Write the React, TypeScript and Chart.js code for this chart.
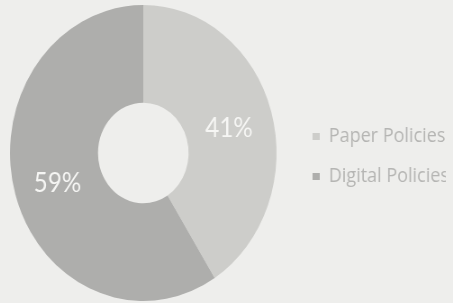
import React, { useEffect, useRef } from 'react';
import { Chart, registerables } from 'chart.js';

Chart.register(...registerables);

// ---- data ----
const categories: string[] = ['Paper Policies', 'Digital Policies'];
const shares: number[] = [41, 59];
const sliceColors: string[] = ['#cdcdca', '#aeaeac'];
const pctLabels: string[] = shares.map((v) => `${v}%`);

// ---- view ----
const VIEW_W = 453;
const VIEW_H = 303;
const SQUEEZE = 0.9; // the reference doughnut is a little narrower than tall
const LEFT_BLEED = 9; // canvas px hidden past the left edge
const CANVAS_W = Math.round(VIEW_W / SQUEEZE) + LEFT_BLEED;

const pctPlugin = {
  id: 'pctLabels',
  afterDatasetsDraw(chart: any) {
    const meta = chart.getDatasetMeta(0);
    const ctx = chart.ctx as CanvasRenderingContext2D;
    ctx.save();
    ctx.font = '27px Lato, "Open Sans", sans-serif';
    ctx.fillStyle = '#f6f6f4';
    ctx.textAlign = 'center';
    ctx.textBaseline = 'middle';
    meta.data.forEach((arc: any, i: number) => {
      const p = arc.tooltipPosition(false);
      ctx.fillText(pctLabels[i], p.x, p.y + 3);
    });
    ctx.restore();
  },
};

export default function App() {
  const ref = useRef<HTMLCanvasElement | null>(null);

  useEffect(() => {
    if (!ref.current) return;
    const chart = new Chart(ref.current, {
      type: 'doughnut',
      data: {
        labels: categories,
        datasets: [
          {
            data: shares,
            backgroundColor: sliceColors,
            borderWidth: 0,
          },
        ],
      },
      options: {
        responsive: false,
        animation: false,
        devicePixelRatio: 1,
        cutout: '34%',
        layout: { padding: { left: 0, right: 8, top: 5, bottom: 2 } },
        plugins: {
          legend: {
            position: 'right',
            align: 'center',
            maxWidth: 168,
            title: { display: true, text: ' ', padding: 0, font: { size: 7, lineHeight: 1 } },
            labels: {
              boxWidth: 8,
              boxHeight: 7,
              padding: 20,
              color: '#b5b5b3',
              font: { family: '"Open Sans", Lato, sans-serif', size: 20, lineHeight: 1.05 },
            },
          },
          tooltip: { enabled: false },
        },
      } as any,
      plugins: [pctPlugin],
    });
    return () => chart.destroy();
  }, []);

  return (
    <div
      style={{
        position: 'fixed',
        left: 0,
        top: 0,
        width: VIEW_W,
        height: VIEW_H,
        background: '#eeeeec',
        overflow: 'hidden',
      }}
    >
      <canvas
        ref={ref}
        width={CANVAS_W}
        height={VIEW_H}
        style={{
          width: CANVAS_W * SQUEEZE,
          height: VIEW_H,
          display: 'block',
          marginLeft: -LEFT_BLEED * SQUEEZE,
        }}
      />
    </div>
  );
}
